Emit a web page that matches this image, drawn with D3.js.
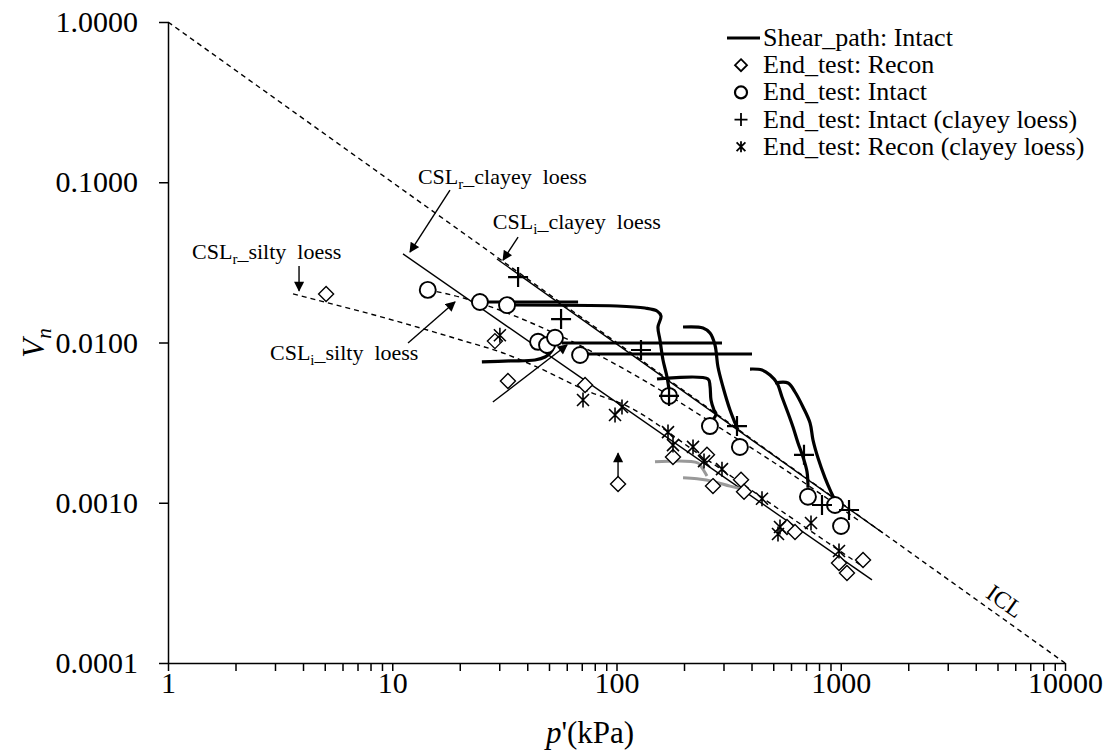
<!DOCTYPE html>
<html>
<head>
<meta charset="utf-8">
<script src="https://cdn.jsdelivr.net/npm/d3@7"></script>
<style>
  body { margin: 0; background: #fff; }
  text { font-family: "Liberation Serif", "Times New Roman", serif; fill: #000; }
</style>
</head>
<body>
<svg id="chart" width="1107" height="753"></svg>
<script>
// ---- axis ticks ----
const xDecades = [1, 10, 100, 1000, 10000];
const xTickLabels = ["1", "10", "100", "1000", "10000"];
const yDecades = [0.0001, 0.001, 0.01, 0.1, 1];
const yTickLabels = ["0.0001", "0.0010", "0.0100", "0.1000", "1.0000"];

// ---- end-of-test states [p' (kPa), Vn] ----
const endRecon = [
  [5.07, 0.0201], [28.7, 0.0102], [32.8, 0.00575], [72.4, 0.00543], [101.6, 0.00131],
  [178.6, 0.00193], [253.2, 0.00199], [269.3, 0.00127], [359.2, 0.00139], [370.4, 0.00117],
  [575.9, 0.000706], [625.2, 0.000657], [982.2, 0.000421], [1066, 0.000364], [1257, 0.000439]
];
const endIntact = [
  [14.4, 0.0213], [24.6, 0.0179], [32.5, 0.0171], [44.7, 0.0101], [49.0, 0.00965],
  [53.2, 0.0107], [68.8, 0.00836], [171.5, 0.00464], [261, 0.00301], [355, 0.00223],
  [714, 0.00109], [943, 0.000968], [1003, 0.000716]
];
const endIntactClayey = [
  [36.4, 0.0256], [56.6, 0.0140], [128.6, 0.00898], [171.5, 0.00464], [344.6, 0.00301],
  [685.6, 0.00199], [824.8, 0.000968], [1088.6, 0.000901]
];
const endReconClayey = [
  [30.2, 0.0111], [70.9, 0.00438], [105.8, 0.00396], [98.5, 0.00353], [169.7, 0.00276],
  [178.6, 0.00229], [219.4, 0.00223], [245.6, 0.00182], [295.4, 0.00162], [445.5, 0.00106],
  [535.9, 0.000706], [525, 0.000638], [736.8, 0.000747], [982.2, 0.0005]
];

// ---- shear paths, intact specimens ----
const shearIntact = [
  [[24.6, 0.0179], [67.4, 0.0179]],
  [[32.5, 0.01714], [100.5, 0.0169], [134.0, 0.01642], [151.6, 0.01573], [157.9, 0.01463],
   [153.1, 0.01249], [156.3, 0.01036], [161.2, 0.00778], [168.0, 0.00609], [171.5, 0.00505]],
  [[25.1, 0.00756], [33.5, 0.00767], [43.3, 0.00778], [48.0, 0.00812], [51.0, 0.00873], [52.1, 0.00937]],
  [[68.8, 0.00848], [402, 0.00848]],
  [[57.1, 0.00993], [295.4, 0.00993]],
  [[151.6, 0.00592], [255.9, 0.00592], [261.2, 0.00535], [263.9, 0.00438], [272.1, 0.00379],
   [277.8, 0.00358], [266.7, 0.00324]],
  [[198.0, 0.01249], [243.1, 0.01232], [261.2, 0.01146], [274.9, 0.00965], [283.5, 0.00703],
   [298.5, 0.00528], [320.8, 0.00379], [337.6, 0.00315], [348.2, 0.00284]],
  [[393.8, 0.00683], [445.5, 0.00674], [483.6, 0.00627], [519.6, 0.00559], [547.0, 0.00457],
   [581.9, 0.00363], [612.5, 0.00297], [644.8, 0.00236], [678.7, 0.00193], [707.2, 0.00156],
   [714.5, 0.00124]],
  [[509.1, 0.00559], [581.9, 0.00559], [625.2, 0.00491], [678.7, 0.00396], [729.4, 0.00315],
   [752.2, 0.00246], [791.8, 0.0019], [850.8, 0.00143], [904.4, 0.00117], [942.8, 0.00104]]
];
// ---- shear paths, reconstituted specimens (grey) ----
const shearRecon = [
  [[148.5, 0.0018], [230.9, 0.00177], [240.6, 0.00165], [253.2, 0.00147]],
  [[198.0, 0.00143], [228.6, 0.00141], [274.9, 0.00135], [320.8, 0.00127], [381.9, 0.0012]]
];

// ---- reference lines ----
const icl = [[1, 1], [10000, 0.0001]];
const cslIClayey = [[29.3, 0.0332], [1543, 0.000647]];
const cslRClayey = [[11.17, 0.0357], [1378, 0.00033]];
const cslRSilty = [
  [3.61, 0.0201], [10.83, 0.0134], [20.05, 0.0104], [31.2, 0.0086], [44.2, 0.00703],
  [76.2, 0.00491], [109.1, 0.00407], [235.7, 0.00199], [535.9, 0.000901], [1244, 0.000403]
];
const cslISilty = [
  [14.4, 0.0213], [20.05, 0.0192], [24.6, 0.0176], [49.0, 0.012], [127.3, 0.006],
  [289.4, 0.00293], [658.1, 0.00139], [1193, 0.00078]
];

// ---- annotations ----
const lineLabels = [
  { main: "CSL", sub: "r", rest: "_clayey  loess", at: [13.02, 0.0975] },
  { main: "CSL", sub: "i", rest: "_clayey  loess", at: [28.1, 0.0511] },
  { main: "CSL", sub: "r", rest: "_silty  loess", at: [1.28, 0.0332] },
  { main: "CSL", sub: "i", rest: "_silty  loess", at: [2.85, 0.00778] }
];
const pointers = [
  [[18.09, 0.0894], [12.0, 0.0367]],
  [[36.4, 0.0455], [31.2, 0.0327]],
  [[3.84, 0.0300], [3.84, 0.0210]],
  [[11.76, 0.00993], [19.05, 0.0179]],
  [[28.1, 0.00425], [60.2, 0.00965]],
  [[101.6, 0.00145], [101.6, 0.00204]]
];
const iclLabel = { text: "ICL", at: [5401, 0.000244] };

const legendLabels = [
  "Shear_path: Intact",
  "End_test: Recon",
  "End_test: Intact",
  "End_test: Intact (clayey loess)",
  "End_test: Recon (clayey loess)"
];

// ---- drawing ----
const svg = d3.select("#chart");
const x = d3.scaleLog().domain([1, 10000]).range([168, 1065]);
const y = d3.scaleLog().domain([0.0001, 1]).range([663, 22]);

svg.append("defs").append("marker")
  .attr("id", "head").attr("viewBox", "0 0 10 10").attr("refX", 9).attr("refY", 5)
  .attr("markerUnits", "userSpaceOnUse").attr("markerWidth", 11).attr("markerHeight", 10)
  .attr("orient", "auto")
  .append("path").attr("d", "M0,0 L10,5 L0,10 Z").attr("fill", "#000");

// axes
const xMinor = [];
xDecades.slice(0, -1).forEach(d => { for (let k = 1; k < 10; k++) xMinor.push(d * k); });
xMinor.push(10000);

const gx = svg.append("g").attr("transform", `translate(0,${y.range()[0]})`)
  .call(d3.axisBottom(x).tickValues(xMinor).tickSize(8).tickSizeOuter(0).tickPadding(1)
    .tickFormat(d => { const i = xDecades.indexOf(d); return i >= 0 ? xTickLabels[i] : ""; }));
const gy = svg.append("g").attr("transform", `translate(${x.range()[0]},0)`)
  .call(d3.axisLeft(y).tickValues(yDecades).tickSize(9).tickSizeOuter(0).tickPadding(21)
    .tickFormat((d, i) => yTickLabels[i]));
[gx, gy].forEach(g => {
  g.attr("font-family", null);
  g.selectAll("path.domain").attr("stroke", "#000").attr("stroke-width", 1.5);
  g.selectAll(".tick line").attr("stroke", "#000").attr("stroke-width", 1.5);
  g.selectAll(".tick text").attr("font-size", 30).attr("fill", "#000");
});

// axis titles
const yt = svg.append("text").attr("transform", "translate(44,343) rotate(-90)")
  .attr("text-anchor", "middle").attr("font-size", 31);
yt.append("tspan").attr("font-style", "italic").text("V");
yt.append("tspan").attr("font-style", "italic").attr("font-size", 21).attr("dy", 7).text("n");

const xt = svg.append("text").attr("x", 590).attr("y", 743)
  .attr("text-anchor", "middle").attr("font-size", 31);
xt.append("tspan").attr("font-style", "italic").text("p");
xt.append("tspan").text("'(kPa)");

const line = d3.line().x(d => x(d[0])).y(d => y(d[1]));
const smooth = d3.line().x(d => x(d[0])).y(d => y(d[1])).curve(d3.curveMonotoneX);
const plot = svg.append("g");

// reference lines
plot.append("path").datum(icl).attr("d", line).attr("fill", "none")
  .attr("stroke", "#000").attr("stroke-width", 1.4).attr("stroke-dasharray", "5,4");
plot.append("path").datum(cslIClayey).attr("d", line).attr("fill", "none")
  .attr("stroke", "#000").attr("stroke-width", 1.4);
plot.append("path").datum(cslRClayey).attr("d", line).attr("fill", "none")
  .attr("stroke", "#000").attr("stroke-width", 1.4);
[cslRSilty, cslISilty].forEach(c => plot.append("path").datum(c).attr("d", smooth)
  .attr("fill", "none").attr("stroke", "#000").attr("stroke-width", 1.4)
  .attr("stroke-dasharray", "5,4"));

// shear paths
const pathCurve = d3.line().x(d => x(d[0])).y(d => y(d[1])).curve(d3.curveCatmullRom.alpha(0.5));
shearRecon.forEach(s => plot.append("path").datum(s).attr("d", pathCurve).attr("fill", "none")
  .attr("stroke", "#999").attr("stroke-width", 3).attr("stroke-linejoin", "round"));
shearIntact.forEach(s => plot.append("path").datum(s).attr("d", pathCurve).attr("fill", "none")
  .attr("stroke", "#000").attr("stroke-width", 3.2).attr("stroke-linejoin", "round"));

// marker shapes
function shape(type, r) {
  if (type === "diamond") return `M0,${-r}L${r},0L0,${r}L${-r},0Z`;
  if (type === "plus") return `M${-r},0H${r}M0,${-r}V${r}`;
  if (type === "asterisk") {
    const a = r * 0.8;
    return `M0,${-r}V${r}M${-a},${-a}L${a},${a}M${-a},${a}L${a},${-a}`;
  }
  return `M${r},0A${r},${r} 0 1,1 ${-r},0A${r},${r} 0 1,1 ${r},0Z`;
}
function drawPoints(data, type, r, sw) {
  plot.append("g").selectAll("path").data(data).join("path")
    .attr("transform", d => `translate(${x(d[0])},${y(d[1])})`)
    .attr("d", shape(type, r)).attr("fill", type === "circle" || type === "diamond" ? "#fff" : "none")
    .attr("stroke", "#000").attr("stroke-width", sw);
}
drawPoints(endRecon, "diamond", 7.5, 1.4);
drawPoints(endIntact, "circle", 8, 1.9);
drawPoints(endIntactClayey, "plus", 10, 2.2);
drawPoints(endReconClayey, "asterisk", 7.5, 1.6);

// annotation arrows
pointers.forEach(p => plot.append("path").datum(p).attr("d", line)
  .attr("stroke", "#000").attr("stroke-width", 1.4).attr("marker-end", "url(#head)"));

// annotation labels
lineLabels.forEach(l => {
  const t = plot.append("text").attr("x", x(l.at[0])).attr("y", y(l.at[1]))
    .attr("font-size", 22).style("white-space", "pre");
  t.append("tspan").text(l.main);
  t.append("tspan").attr("font-size", 15).attr("dy", 5).text(l.sub);
  t.append("tspan").attr("dy", -5).text(l.rest);
});
const iclAngle = Math.atan2(y(1e-4) - y(1), x(1e4) - x(1)) * 180 / Math.PI;
plot.append("text").attr("font-size", 24).attr("text-anchor", "middle")
  .attr("transform", `translate(${x(iclLabel.at[0])},${y(iclLabel.at[1])}) rotate(${iclAngle})`)
  .attr("dy", "0.35em").text(iclLabel.text);

// legend
const legendTypes = ["line", "diamond", "circle", "plus", "asterisk"];
const lg = svg.append("g").attr("transform", "translate(727,38)");
legendLabels.forEach((lab, i) => {
  const row = lg.append("g").attr("transform", `translate(0,${i * 27.2})`);
  const t = legendTypes[i];
  if (t === "line") {
    row.append("line").attr("x1", 0).attr("x2", 33).attr("stroke", "#000").attr("stroke-width", 3);
  } else {
    const r = t === "circle" ? 6 : t === "plus" ? 6.5 : t === "diamond" ? 6 : 5.5;
    row.append("path").attr("transform", "translate(14,0)").attr("d", shape(t, r))
      .attr("fill", "none").attr("stroke", "#000").attr("stroke-width", t === "circle" ? 2.2 : 1.8);
  }
  row.append("text").attr("x", 36).attr("y", 8).attr("font-size", 26).text(lab);
});
</script>
</body>
</html>
